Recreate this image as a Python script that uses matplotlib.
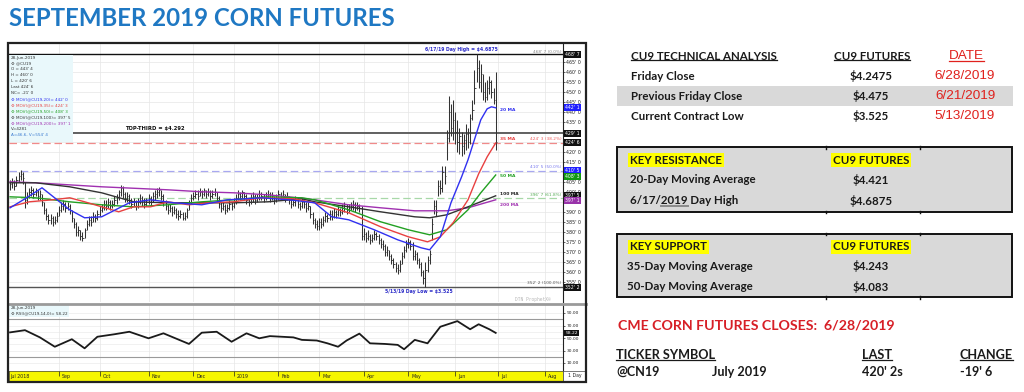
import matplotlib
matplotlib.use("Agg")
import matplotlib.pyplot as plt
from matplotlib.patches import Rectangle
from matplotlib.lines import Line2D
from matplotlib.ticker import FuncFormatter
import numpy as np
import pandas as pd

W, H = 1024, 392

# ---- data (prices in cents) ----
HOLIDAYS = ["2018-09-03", "2018-11-22", "2018-12-05", "2018-12-25", "2019-01-01",
            "2019-01-21", "2019-02-18", "2019-04-19", "2019-05-27", "2019-07-04"]
trading_days = pd.date_range("2018-08-01", "2019-08-30",
                             freq=pd.offsets.CustomBusinessDay(holidays=HOLIDAYS))

month_names = ["Sep", "Oct", "Nov", "Dec", "2019", "Feb", "Mar", "Apr", "May", "Jun", "Jul", "Aug"]
month_firsts = ["2018-09-01", "2018-10-01", "2018-11-01", "2018-12-01", "2019-01-01", "2019-02-01",
                "2019-03-01", "2019-04-01", "2019-05-01", "2019-06-01", "2019-07-01", "2019-08-01"]

highs = [406, 407, 406, 408, 410, 411, 410, 405, 400, 402,
         403, 402, 402, 401, 401, 399, 395, 392, 389, 389,
         388, 388, 390, 393, 395, 396, 395, 395, 394, 391,
         387, 385, 383, 381, 380, 382, 386, 388, 388, 390,
         389, 391, 393, 394, 396, 396, 397, 396, 396, 398,
         399, 401, 403.5, 403, 400, 400, 399, 397, 397, 396,
         397, 399, 398, 397, 397, 399, 398, 400, 401, 402,
         402.5, 401, 399, 396, 394, 394, 393, 393, 392, 391,
         391, 390, 390, 392, 396, 399, 400, 401, 401, 402,
         401, 402, 401, 402, 401, 401, 402, 400, 398, 395,
         395, 394, 394, 396, 395, 397, 399, 401, 400, 401,
         400, 399, 397, 399, 400, 399, 399, 401, 400, 399,
         400, 401, 400, 400, 398, 399, 401, 400, 401, 399,
         400, 398, 397, 397, 398, 397, 395, 397, 396, 395,
         395, 393, 390, 387, 386, 387, 387, 388, 390, 389,
         391, 391, 392, 391, 393, 392, 394, 395, 394, 394,
         395, 396, 395, 395, 394, 393, 382, 380, 381, 379,
         379, 381, 380, 379, 377, 376, 374, 373, 371, 369,
         367, 365, 364, 366, 370, 373, 376, 377, 376, 375,
         371, 370, 367, 365, 361, 365, 368, 371, 387, 396,
         396, 406, 406, 413, 413, 431, 448, 444, 446, 440,
         436, 432, 430, 429, 434, 432, 439, 446, 461, 468.75,
         466, 464, 459, 455, 456, 458, 456, 452, 460]
lows = [401, 402, 401, 403, 405, 406, 404, 392, 394, 397,
        398, 397, 398, 396, 396, 393, 389, 386, 384, 384,
        383, 384, 385, 388, 390, 391, 390, 391, 389, 385,
        382, 378, 378, 376, 375.5, 377, 381, 383, 383, 385,
        385, 386, 388, 390, 391, 391, 392, 391, 392, 393,
        394, 396, 398, 397, 395, 395, 394, 392, 393, 391,
        392, 394, 393, 392, 393, 394, 393, 395, 396, 397,
        398, 396, 393, 391, 389, 390, 388, 389, 387, 386,
        387, 386, 386, 387, 391, 394, 396, 397, 396, 398,
        397, 398, 397, 398, 396, 397, 398, 395, 392, 390,
        391, 389, 390, 391, 391, 392, 394, 396, 396, 397,
        396, 394, 393, 394, 395, 394, 395, 396, 396, 395,
        396, 397, 395, 396, 394, 395, 396, 396, 397, 395,
        396, 394, 392, 393, 393, 392, 391, 392, 392, 390,
        391, 387, 384, 382, 381, 381, 382, 383, 385, 385,
        386, 386, 387, 387, 388, 388, 389, 390, 389, 390,
        391, 391, 390, 391, 390, 376, 376, 375, 376, 374,
        375, 376, 376, 374, 372, 371, 368, 368, 366, 364,
        362, 360, 359, 360, 364, 367, 370, 372, 371, 366,
        366, 364, 362, 358, 354, 352.5, 360, 364, 376, 389,
        388, 398, 399, 400, 404, 416, 425, 428, 426, 424,
        420, 419, 418, 419, 421, 422, 424, 436, 444, 455,
        452, 450, 446, 445, 446, 449, 447, 444, 420.75]
closes = [404, 405, 403, 406, 408, 409, 407, 396, 398, 400,
          401, 399, 400, 398, 399, 395, 391, 388, 386, 387,
          385, 386, 388, 391, 393, 394, 392, 393, 391, 387,
          384, 380, 381, 378, 377, 381, 384, 386, 385, 388,
          387, 389, 391, 392, 394, 393, 395, 393, 394, 396,
          397, 400, 402, 399, 397, 398, 396, 394, 395, 393,
          395, 397, 396, 394, 395, 397, 396, 398, 399, 400,
          401, 398, 395, 393, 391, 392, 390, 391, 389, 388,
          389, 387, 388, 391, 394, 397, 398, 399, 398, 400,
          399, 401, 399, 400, 398, 399, 400, 397, 394, 392,
          393, 391, 392, 394, 393, 395, 397, 399, 398, 400,
          398, 396, 395, 397, 398, 396, 397, 399, 398, 397,
          398, 399, 397, 398, 396, 397, 399, 398, 399, 397,
          398, 396, 394, 395, 396, 394, 393, 395, 394, 392,
          393, 389, 386, 384, 383, 385, 384, 386, 388, 387,
          389, 388, 390, 389, 391, 390, 392, 393, 391, 392,
          393, 394, 392, 393, 392, 378, 379, 377, 378, 376,
          377, 379, 378, 376, 374, 373, 370, 371, 368, 366,
          364, 362, 361, 364, 368, 371, 374, 375, 373, 368,
          369, 366, 364, 360, 357, 361, 366, 369, 384, 393,
          390, 403, 402, 410, 408, 427, 440, 432, 436, 430,
          425, 428, 423, 426, 429, 425, 437, 441, 452, 462,
          455, 459, 450, 447.5, 452, 455, 450, 445.75, 424.75]

ma20_idx = [0, 7, 15, 28, 35, 43, 56, 66, 77, 90, 102, 118, 131, 143, 151, 159, 171, 182,
            193, 197, 202, 207, 212, 215, 218, 221, 224, 226, 228]
ma20 = [392, 396.5, 402, 391, 387, 387.5, 394.5, 396, 394.5, 393.5, 396, 397, 396, 394.5, 387.5,
        386, 381, 376, 372, 371, 377.5, 394.5, 407.5, 416, 426, 436, 441.5, 442.5, 442]
ma35_idx = [0, 9, 20, 28, 35, 43, 51, 58, 66, 74, 84, 93, 105, 118, 133, 143, 159, 174, 187,
            196, 202, 208, 215, 220, 224, 228]
ma35 = [392.5, 395, 396, 397, 395, 392.5, 390, 392.5, 392.5, 395, 393.5, 394.5, 395, 397, 396.5,
        394.5, 389.5, 382.5, 377.5, 375, 377.5, 384.5, 396, 409, 417.5, 424.4]
ma50_idx = [0, 12, 28, 43, 58, 74, 90, 105, 121, 137, 143, 159, 174, 187, 197, 205, 215, 221, 228]
ma50 = [397.5, 397, 395, 393.5, 392.5, 393.5, 395, 396, 397.5, 397, 396, 391, 385, 381, 378.5,
        381, 391, 399.5, 408.4]
ma100_idx = [0, 12, 28, 43, 58, 74, 90, 105, 121, 137, 143, 159, 174, 190, 197, 205, 215, 228]
ma100 = [404.5, 404.5, 402.5, 399.5, 395, 394.5, 394.5, 394.5, 395, 396.5, 395, 392.5, 390, 387.5,
         387, 388.5, 392.5, 398]
ma200_idx = [0, 12, 43, 74, 90, 105, 121, 137, 143, 159, 174, 190, 205, 215, 228]
ma200 = [405, 404.5, 402.5, 401, 400, 399.5, 398.5, 396.8, 396, 393.5, 392, 390.5, 390.5, 392, 396]

rsi_idx = [0, 7, 14, 21, 29, 35, 41, 49, 56, 65, 72, 84, 90, 97, 104, 111, 117, 122, 133, 137,
           144, 149, 154, 158, 164, 169, 176, 182, 185, 190, 196, 202, 210, 216, 220, 225, 228]
rsi = [59, 62.5, 51, 36, 48, 33.5, 52, 56, 60, 49.5, 57.5, 40.5, 58.5, 60, 44, 57.5, 49.5, 53, 51,
       47, 46, 41.5, 36, 46, 57, 41.5, 40.5, 39, 32, 47, 41.5, 68, 77, 64, 72, 64, 58.2]

fib_levels = [468.75, 424.375, 410.5, 396.75, 352.25]
fib_texts = ["468' 7 (0.0%)", "424' 3 (38.2%)", "410' 5 (50.0%)", "396' 7 (61.8%)", "352' 2 (100.0%)"]
top_third = 429.2

# ---- helpers ----
fig = plt.figure(figsize=(10.24, 3.92), dpi=100)
fig.patch.set_facecolor("white")


def rect(l, t, w, h):
    return [l / W, 1 - (t + h) / H, w / W, h / H]


def ftext(x, y, s, **kw):
    kw.setdefault("va", "center")
    return fig.text(x / W, 1 - y / H, s, **kw)


def frect(x0, y0, x1, y1, **kw):
    fig.add_artist(Rectangle((x0 / W, 1 - y1 / H), (x1 - x0) / W, (y1 - y0) / H,
                             transform=fig.transFigure, **kw))


def fline(x0, y0, x1, y1, **kw):
    fig.add_artist(Line2D([x0 / W, x1 / W], [1 - y0 / H, 1 - y1 / H], transform=fig.transFigure, **kw))


renderer = fig.canvas.get_renderer()


def underline(t, color="#1a1a1a", lw=0.9):
    bb = t.get_window_extent(renderer=renderer)
    fig.add_artist(Line2D([bb.x0 / W, bb.x1 / W], [(bb.y0 + 1.5) / H] * 2,
                          transform=fig.transFigure, color=color, lw=lw))


x = np.arange(len(closes))
month_idx = trading_days.searchsorted(pd.to_datetime(month_firsts))
XL = (-0.5, 259.6)

# ---- price panel ----
ax = fig.add_axes(rect(9, 44, 554, 258))
ax.set_xlim(*XL)
ax.set_ylim(344.9, 473.9)
for s in ["left", "top", "bottom"]:
    ax.spines[s].set_visible(False)
ax.spines["right"].set_color("#222")
ax.spines["right"].set_linewidth(0.8)
ax.yaxis.tick_right()
ax.set_yticks(np.arange(355, 470, 5))
ax.yaxis.set_major_formatter(FuncFormatter(lambda v, p: f"{int(round(v))}' 0"))
ax.tick_params(axis="y", labelsize=3.4, length=1.5, width=0.5, pad=1, colors="#222")
ax.set_xticks([])
ax.grid(axis="y", color="#e6e6e6", lw=0.5)
for m in month_idx:
    ax.axvline(m, color="#e6e6e6", lw=0.5, zorder=0)

ax.vlines(x, lows, highs, color="#333333", lw=0.75, zorder=3)
ax.hlines(closes, x, x + 0.6, color="#333333", lw=0.6, zorder=3)

ax.plot(ma200_idx, ma200, color="#a030b0", lw=1.0, zorder=4)
ax.plot(ma100_idx, ma100, color="#333333", lw=1.0, zorder=4)
ax.plot(ma50_idx, ma50, color="#22a022", lw=1.0, zorder=4)
ax.plot(ma35_idx, ma35, color="#e84040", lw=1.0, zorder=4)
ax.plot(ma20_idx, ma20, color="#3030f0", lw=1.0, zorder=4)

ax.axhline(fib_levels[0], color="#111111", lw=1.0, zorder=2)
ax.axhline(fib_levels[1], color="#f08a8a", lw=0.9, ls=(0, (6, 3)), zorder=2)
ax.axhline(fib_levels[2], color="#a8a8f0", lw=0.9, ls=(0, (6, 3)), zorder=2)
ax.axhline(fib_levels[3], color="#a8d8a8", lw=0.9, ls=(0, (6, 3)), zorder=2)
ax.axhline(fib_levels[4], color="#555555", lw=1.0, zorder=2)
ax.axhline(top_third, color="#555555", lw=1.3, zorder=2)

fib_cols = ["#888888", "#f06060", "#7777ee", "#55aa55", "#555555"]
fib_text_y = [470.0, 426.2, 412.4, 398.5, 354.2]
for ty, s, c in zip(fib_text_y, fib_texts, fib_cols):
    ax.text(258.8, ty, s, fontsize=3.1, color=c, ha="right", va="center")

ax.text(54, 431.8, "TOP-THIRD = $4.292", fontsize=3.8, fontweight="bold", color="#111", va="center")
ax.text(212, 471.2, "6/17/19 Day High = $4.6875", fontsize=3.3, fontweight="bold",
        color="#2b2bc8", ha="center", va="center")
ax.text(192, 350.0, "5/13/19 Day Low = $3.525", fontsize=3.3, fontweight="bold",
        color="#2b2bc8", ha="center", va="center")
ma_labels = [("20 MA", 440.8, "#3030f0"), ("35 MA", 426.4, "#e84040"), ("50 MA", 407.9, "#22a022"),
             ("100 MA", 398.9, "#222222"), ("200 MA", 393.4, "#a030b0")]
for s, yv, c in ma_labels:
    ax.text(230, yv, s, fontsize=3.2, fontweight="bold", color=c, va="center")
ax.text(245.5, 345.9, "DTN ProphetX\u00ae", fontsize=3.3, family="DejaVu Sans Mono",
        color="#b8b8b8", ha="center", va="center")

axis_boxes = [(468.75, "468' 7", "#111111"), (442.1, "442' 1", "#2020ff"),
              (429.1, "429' 1", "#111111"), (424.75, "424' 6", "#111111"),
              (410.6, "410' 5", "#2020ff"), (407.6, "408' 3", "#119911"),
              (398.0, "397' 5", "#111111"), (395.6, "397' 1", "#9933aa"),
              (352.25, "352' 2", "#111111")]
for yv, s, c in axis_boxes:
    ax.text(1.004, yv, s, transform=ax.get_yaxis_transform(), fontsize=3.3, color="white",
            ha="left", va="center", clip_on=False, zorder=6,
            bbox=dict(boxstyle="square,pad=0.25", fc=c, ec="none"))

# legend box of the price panel
frect(9, 55, 73, 142, fc="#e9f8fb", ec="none", zorder=1)
legend_lines = [("28-Jun-2019", "#333"), ("\u2699 @CU19", "#333"), ("O = 443' 4", "#333"),
                ("H = 460' 0", "#333"), ("L = 420' 6", "#333"), ("Last 424' 6", "#333"),
                ("NC= -21' 0", "#333"), ("\u2699 MOV(@CU19,20)= 442' 0", "#3030f0"),
                ("\u2699 MOV(@CU19,35)= 424' 3", "#e84040"), ("\u2699 MOV(@CU19,50)= 408' 3", "#22a022"),
                ("\u2699 MOV(@CU19,100)= 397' 5", "#333"), ("\u2699 MOV(@CU19,200)= 397' 1", "#a030b0"),
                ("V=4281", "#333"), ("A=46.6, V=554' 4", "#3a7ad0")]
for i, (s, c) in enumerate(legend_lines):
    ftext(11, 57.5 + i * 6.0, s, fontsize=3.0, color=c, zorder=2)

# ---- RSI panel ----
rx = fig.add_axes(rect(9, 305, 554, 66))
rx.set_xlim(*XL)
rx.set_ylim(-2.8, 102.8)
for s in ["left", "top", "bottom"]:
    rx.spines[s].set_visible(False)
rx.spines["right"].set_color("#222")
rx.spines["right"].set_linewidth(0.8)
rx.yaxis.tick_right()
rx.set_yticks([10, 30, 50, 70, 90])
rx.yaxis.set_major_formatter(FuncFormatter(lambda v, p: f"{v:.2f}"))
rx.tick_params(axis="y", labelsize=3.2, length=1.5, width=0.5, pad=1, colors="#222")
rx.set_xticks([])
for lv in range(10, 100, 10):
    rx.axhline(lv, color="#ececec", lw=0.5, zorder=0)
for m in month_idx:
    rx.axvline(m, color="#e6e6e6", lw=0.5, zorder=0)
rx.axhline(80, color="#9a9a9a", lw=0.8)
rx.axhline(20, color="#9a9a9a", lw=0.8)
rx.plot(rsi_idx, rsi, color="#1a1a1a", lw=1.3, zorder=3)
rx.text(1.004, rsi[-1], "58.22", transform=rx.get_yaxis_transform(), fontsize=3.2, color="white",
        ha="left", va="center", clip_on=False, bbox=dict(boxstyle="square,pad=0.25", fc="#111", ec="none"))
frect(9, 305, 69, 317, fc="#e9f8fb", ec="none", zorder=1)
ftext(11, 307.5, "28-Jun-2019", fontsize=3.0, color="#333", zorder=2)
ftext(11, 313.5, "\u2699 RSI(@CU19,14,0)= 58.22", fontsize=3.0, color="#333", zorder=2)

# ---- date bar ----
dx = fig.add_axes(rect(9, 371, 554, 10))
dx.set_facecolor("#f6f600")
dx.set_xlim(*XL)
dx.set_ylim(0, 1)
dx.set_xticks([])
dx.set_yticks([])
for s in dx.spines.values():
    s.set_color("#444")
    s.set_linewidth(0.5)
dx.vlines(month_idx, 0.55, 1, color="#222", lw=0.5)
dx.text(0.3, 0.45, "Jul 2018", fontsize=3.4, va="center", ha="left", color="#222")
for m, s in zip(month_idx, month_names):
    dx.text(m + 1.5, 0.45, s, fontsize=3.4, va="center", ha="left", color="#222")
frect(563, 371, 586, 381, fc="white", ec="#444", lw=0.5)
ftext(574.5, 376, "1 Day", fontsize=3.3, ha="center", color="#222")

# panel separator and outer frame
fline(9, 303.5, 586, 303.5, color="#9a9a9a", lw=2.0)
frect(8, 43, 586, 382, fc="none", ec="#222", lw=1.6, zorder=5)

# ---- title ----
ftext(9, 19, "SEPTEMBER 2019 CORN FUTURES", fontsize=17.3, fontweight="bold",
      family="Lato", color="#1f78c3", ha="left")

# ---- technical analysis table ----
TF = "Lato"
TS = 8.25
ink = "#1a1a1a"
red_date = "#e0211d"

t = ftext(631, 56, "CU9 TECHNICAL ANALYSIS", family=TF, fontsize=TS, fontweight="bold", color=ink)
underline(t)
t = ftext(872, 56, "CU9 FUTURES", family=TF, fontsize=TS, fontweight="bold", color=ink, ha="center")
underline(t)
t = ftext(966, 56, "DATE", family="Liberation Sans", fontsize=9.7, color=red_date, ha="center")
underline(t, color=red_date)

ta_labels = ["Friday Close", "Previous Friday Close", "Current Contract Low"]
ta_values = ["$4.2475", "$4.475", "$3.525"]
ta_dates = ["6/28/2019", "6/21/2019", "5/13/2019"]
ta_y = [76, 96, 116]
frect(617, 86, 1013, 106, fc="#d9d9d9", ec="none", zorder=0)
for lab, val, d, yy in zip(ta_labels, ta_values, ta_dates, ta_y):
    ftext(631, yy, lab, family=TF, fontsize=TS, fontweight="bold", color=ink)
    ftext(871, yy, val, family=TF, fontsize=TS, fontweight="bold", color=ink, ha="center")
    ftext(965, yy, d, family="Liberation Sans", fontsize=9.7, color=red_date, ha="center")

hl = dict(boxstyle="square,pad=0.15", fc="#ffff00", ec="none")


def level_box(top, bottom, title, labels, values, ys, lab_x):
    frect(617, top, 1012, bottom, fc="#d9d9d9", ec="#111", lw=1.4, zorder=0)
    for cx in (826, 920):
        fline(cx, top - 1.5, cx, top + 1.5, color="#111", lw=1.0)
        fline(cx, bottom - 1.5, cx, bottom + 1.5, color="#111", lw=1.0)
    ftext(630, top + 13, title, family=TF, fontsize=TS, fontweight="bold", color=ink, bbox=hl)
    ftext(871, top + 13, "CU9 FUTURES", family=TF, fontsize=TS, fontweight="bold", color=ink,
          ha="center", bbox=hl)
    out = []
    for lab, val, yy in zip(labels, values, ys):
        out.append(ftext(lab_x, yy, lab, family=TF, fontsize=TS, fontweight="bold", color=ink))
        ftext(871, yy, val, family=TF, fontsize=TS, fontweight="bold", color=ink, ha="center")
    return out


res_labels = ["20-Day Moving Average", "6/17/2019 Day High"]
res_values = ["$4.421", "$4.6875"]
sup_labels = ["35-Day Moving Average", "50-Day Moving Average"]
sup_values = ["$4.243", "$4.083"]

res_texts = level_box(147, 212, "KEY RESISTANCE", res_labels, res_values, [180, 201], 630)
level_box(234, 297, "KEY SUPPORT", sup_labels, sup_values, [266, 287], 627)

# grey marker under "2019" in the day-high row
t = res_texts[1]
bb = t.get_window_extent(renderer=renderer)
fp = t.get_fontproperties()
w_pre = renderer.get_text_width_height_descent("6/17/", fp, ismath=False)[0]
w_yr = renderer.get_text_width_height_descent("2019", fp, ismath=False)[0]
fig.add_artist(Line2D([(bb.x0 + w_pre) / W, (bb.x0 + w_pre + w_yr) / W], [(bb.y0 + 1.0) / H] * 2,
                      transform=fig.transFigure, color="#8a8a8a", lw=1.4))

# ---- closes block ----
ftext(618, 325, "CME CORN FUTURES CLOSES:  6/28/2019", family=TF, fontsize=10.2,
      fontweight="bold", color="#d71f26")
close_heads = ["TICKER SYMBOL", "LAST", "CHANGE"]
close_head_x = [616, 862, 960]
for s, xx in zip(close_heads, close_head_x):
    t = ftext(xx, 355, s, family=TF, fontsize=9.1, fontweight="bold", color=ink)
    underline(t)
close_row = ["@CN19", "July 2019", "420' 2s", "-19' 6"]
close_row_x = [616, 712, 862, 960]
for s, xx in zip(close_row, close_row_x):
    ftext(xx, 372, s, family=TF, fontsize=9.1, fontweight="bold", color=ink)

fig.savefig("out.png", dpi=100)
